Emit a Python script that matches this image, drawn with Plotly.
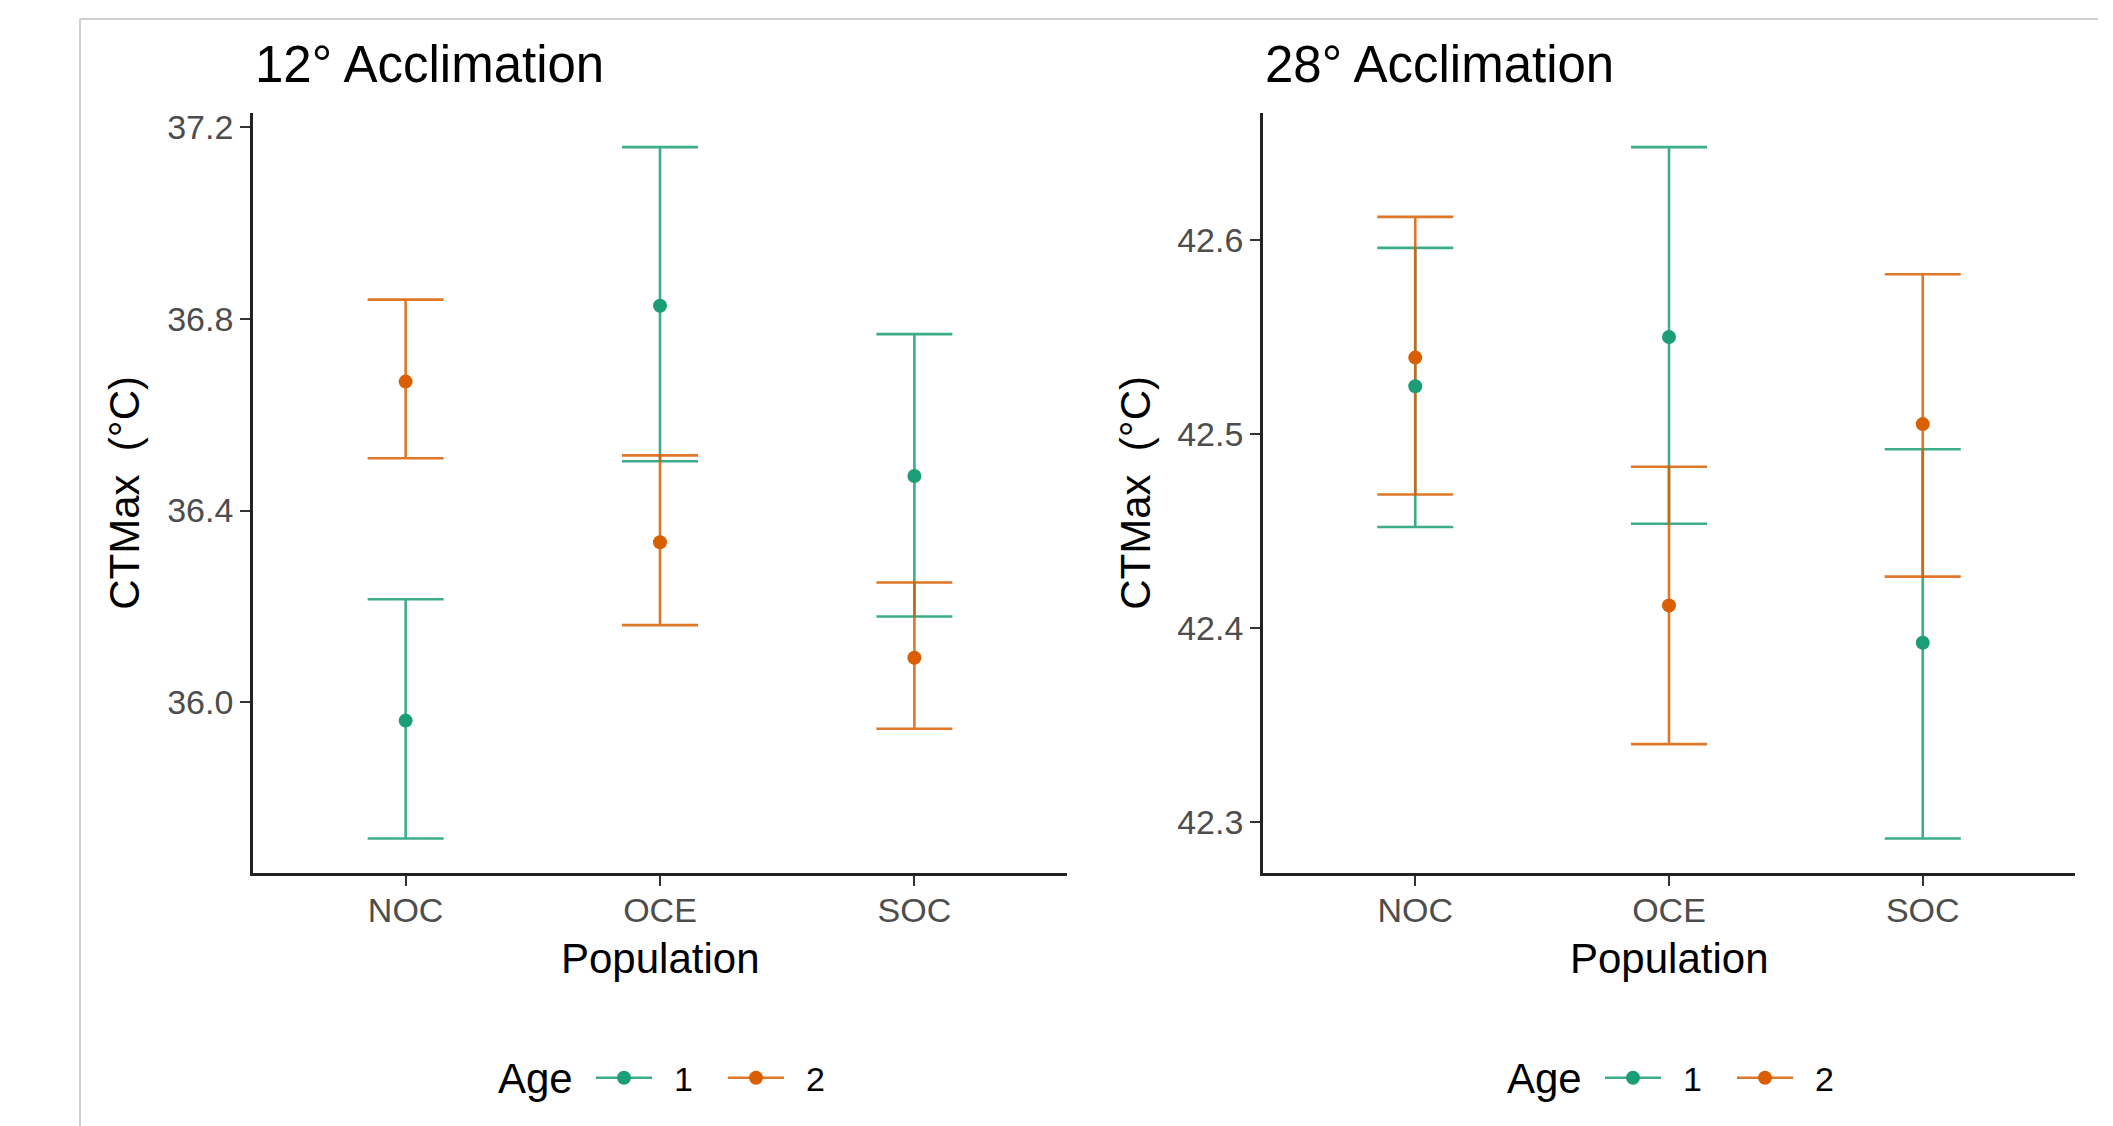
import plotly.graph_objects as go

populations = ["NOC", "OCE", "SOC"]
age_labels = ["1", "2"]
age_colors = ["#1B9E77", "#D95F02"]
bar_colors = ["rgba(27,158,119,0.85)", "rgba(217,95,2,0.85)"]

# 12° Acclimation: mean CTMax and error-bar limits per population
ctmax12_age1 = [35.962, 36.827, 36.472]
upper12_age1 = [36.215, 37.158, 36.768]
lower12_age1 = [35.716, 36.503, 36.179]
ctmax12_age2 = [36.669, 36.334, 36.093]
upper12_age2 = [36.840, 36.515, 36.250]
lower12_age2 = [36.509, 36.161, 35.945]

# 28° Acclimation
ctmax28_age1 = [42.5246, 42.5500, 42.3923]
upper28_age1 = [42.5960, 42.6480, 42.4921]
lower28_age1 = [42.4520, 42.4537, 42.2913]
ctmax28_age2 = [42.5394, 42.4115, 42.5051]
upper28_age2 = [42.6120, 42.4831, 42.5824]
lower28_age2 = [42.4688, 42.3400, 42.4264]

panel_titles = ["12° Acclimation", "28° Acclimation"]
y_title = "CTMax  (°C)"
x_title = "Population"
legend_title = "Age"

panels = [
    [(ctmax12_age1, upper12_age1, lower12_age1), (ctmax12_age2, upper12_age2, lower12_age2)],
    [(ctmax28_age1, upper28_age1, lower28_age1), (ctmax28_age2, upper28_age2, lower28_age2)],
]

W, H = 2113, 1126
FONT = "Liberation Sans, Arial, sans-serif"

fig = go.Figure()

for p, panel in enumerate(panels):
    xa = "x" if p == 0 else "x2"
    ya = "y" if p == 0 else "y2"
    # error bars first (all ages), then points on top
    for a, (mean, up, lo) in enumerate(panel):
        fig.add_trace(go.Scatter(
            x=populations, y=mean, xaxis=xa, yaxis=ya, mode="markers",
            marker=dict(size=1, color="rgba(0,0,0,0)"),
            error_y=dict(type="data", symmetric=False,
                         array=[u - m for u, m in zip(up, mean)],
                         arrayminus=[m - l for m, l in zip(mean, lo)],
                         color=bar_colors[a], thickness=2.6, width=38),
            showlegend=False, hoverinfo="skip"))
    for a, (mean, up, lo) in enumerate(panel):
        fig.add_trace(go.Scatter(
            x=populations, y=mean, xaxis=xa, yaxis=ya, mode="markers",
            marker=dict(size=14, color=age_colors[a]),
            name=age_labels[a], showlegend=False))
    # legend keys (line + point, like ggplot's key)
    for a in range(2):
        fig.add_trace(go.Scatter(
            x=[None], y=[None], xaxis=xa, yaxis=ya, mode="lines+markers",
            line=dict(color=bar_colors[a], width=2.6),
            marker=dict(size=14, color=age_colors[a]),
            name="\u2002" + age_labels[a], legend="legend" if p == 0 else "legend2"))


def yrange(panel):
    lows = [v for s in panel for v in s[2]]
    highs = [v for s in panel for v in s[1]]
    lo, hi = min(lows), max(highs)
    pad = 0.05 * (hi - lo)
    return [lo - pad, hi + pad]


px = lambda v: v / W
py = lambda v: 1 - v / H

dom_x = [[px(253), px(1067)], [px(1263), px(2075)]]
dom_y = [py(872), py(108)]

axis_common = dict(showline=True, linecolor="#222222", linewidth=2.6,
                   ticks="outside", ticklen=10, tickwidth=2.4, tickcolor="#333333",
                   showgrid=False, zeroline=False,
                   tickfont=dict(family=FONT, size=34, color="#4D4D4D"))

legend_common = dict(orientation="h", xanchor="left", y=py(1078), yanchor="middle",
                     font=dict(size=34, family=FONT), itemwidth=56,
                     entrywidth=61, entrywidthmode="pixels",
                     bgcolor="rgba(0,0,0,0)")

layout = dict(
    width=W, height=H, margin=dict(l=0, r=0, t=0, b=0),
    paper_bgcolor="white", plot_bgcolor="white",
    font=dict(family=FONT, color="black"),
    xaxis=dict(domain=dom_x[0], anchor="y", type="category", range=[-0.6, 2.6],
               ticklabelstandoff=-5, **axis_common),
    xaxis2=dict(domain=dom_x[1], anchor="y2", type="category", range=[-0.6, 2.6],
                ticklabelstandoff=-5, **axis_common),
    yaxis=dict(domain=dom_y, anchor="x", range=yrange(panels[0]), dtick=0.4, tick0=36.0,
               tickformat=".1f", **axis_common),
    yaxis2=dict(domain=dom_y, anchor="x2", range=yrange(panels[1]), dtick=0.1, tick0=42.3,
                tickformat=".1f", **axis_common),
    legend=dict(x=px(591), **legend_common),
    legend2=dict(x=px(1600), **legend_common),
    showlegend=True,
)

annotations = []
title_x = [253, 1263]
ytitle_x = [125, 1136]
xcenter = [660, 1669]
age_x = [496, 1505]
for p in range(2):
    annotations.append(dict(text=panel_titles[p], x=px(title_x[p]), y=py(60), xref="paper", yref="paper",
                            xanchor="left", yanchor="middle", showarrow=False,
                            font=dict(size=51, family=FONT, color="black")))
    annotations.append(dict(text=y_title, x=px(ytitle_x[p]), y=py(490), xref="paper", yref="paper",
                            xanchor="center", yanchor="middle", showarrow=False, textangle=-90,
                            font=dict(size=42, family=FONT, color="black")))
    annotations.append(dict(text=x_title, x=px(xcenter[p]), y=py(958), xref="paper", yref="paper",
                            xanchor="center", yanchor="middle", showarrow=False,
                            font=dict(size=42, family=FONT, color="black")))
    annotations.append(dict(text=legend_title, x=px(age_x[p]), y=py(1078), xref="paper", yref="paper",
                            xanchor="left", yanchor="middle", showarrow=False,
                            font=dict(size=42, family=FONT, color="black")))
layout["annotations"] = annotations

layout["shapes"] = [
    dict(type="line", xref="paper", yref="paper", x0=px(80), x1=px(2098), y0=py(14), y1=py(14),
         line=dict(color="#CFCFCF", width=2), layer="below"),
    dict(type="line", xref="paper", yref="paper", x0=px(80), x1=px(80), y0=py(14), y1=0,
         line=dict(color="#CFCFCF", width=2), layer="below"),
]

fig.update_layout(**layout)

fig.write_html("out.html", config={"displayModeBar": False},
               post_script="document.body.style.margin='0';document.body.style.overflow='hidden';")
